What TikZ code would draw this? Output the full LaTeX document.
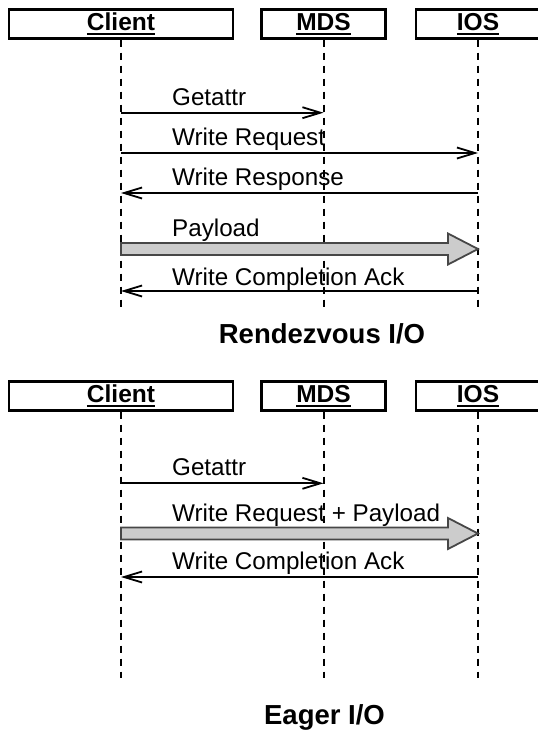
\documentclass[tikz,border=0pt]{standalone}
\usepackage{fontspec}
\setmainfont{Liberation Sans}
\usetikzlibrary{arrows.meta,calc}
\newcommand\hdrul[1]{\setbox0\hbox{#1}\rlap{\smash{\raisebox{-5pt}{\rule{\wd0}{2.2pt}}}}\box0}
\newcommand\fatarrow[2]{%
  \draw[fat] ([yshift=6pt]#1) -- ([xshift=-30pt,yshift=6pt]#2) -- ([xshift=-30pt,yshift=15.5pt]#2) -- (#2)
     -- ([xshift=-30pt,yshift=-15.5pt]#2) -- ([xshift=-30pt,yshift=-6pt]#2) -- ([yshift=-6pt]#1) -- cycle;}
\begin{document}
\begin{tikzpicture}[x=1pt,y=-1pt,
  hdr/.style={draw=black, line width=2.3pt, fill=white, inner sep=0pt, minimum height=29pt,
    text height=12pt, text depth=0pt, font=\fontsize{24.5}{29}\selectfont\bfseries},
  life/.style={line width=2pt, dash pattern=on 7pt off 6pt},
  msg/.style={line width=1.8pt, -{Straight Barb[length=18pt,width=11pt,line width=1.8pt]}},
  lbl/.style={anchor=base west, inner sep=0pt, font=\fontsize{24.2}{29}\selectfont},
  ttl/.style={anchor=base, inner sep=0pt, font=\fontsize{27.5}{33}\selectfont\bfseries},
  fat/.style={draw=black!72, line width=1.8pt, fill=black!20, line join=miter}
]
\useasboundingbox (0,0) rectangle (538,732);

% ---------- Rendezvous I/O ----------
\coordinate (c1e) at (121,307);
\coordinate (m1e) at (323.5,307);
\coordinate (i1e) at (478,307);
\node[hdr, minimum width=224pt] (c1) at (121,24) {\hdrul{Client}};
\node[hdr, minimum width=124pt] (m1) at (323.5,24) {\hdrul{MDS}};
\node[hdr, minimum width=124pt] (i1) at (478,24) {\hdrul{IOS}};
\draw[life] (c1.south) -- (c1e);
\draw[life] (m1.south) -- (m1e);
\draw[life] (i1.south) -- (i1e);

\coordinate (a1s) at (121,112.7); \coordinate (a1e) at (323.5,112.7);
\coordinate (a2s) at (121,153);   \coordinate (a2e) at (478,153);
\coordinate (a3s) at (478,193);   \coordinate (a3e) at (121,193);
\coordinate (a4s) at (121,249);   \coordinate (a4e) at (478,249);
\coordinate (a5s) at (478,291);   \coordinate (a5e) at (121,291);

\draw[msg] (a1s) -- (a1e);
\draw[msg] (a2s) -- (a2e);
\draw[msg] (a3s) -- (a3e);
\fatarrow{a4s}{a4e}
\draw[msg] (a5s) -- (a5e);

\node[lbl] (l1) at (172,105) {Getattr};
\node[lbl] (l2) at (172,145.7) {Write Request};
\node[lbl] (l3) at (172,185) {Write Response};
\node[lbl] (l4) at (172,236) {Payload};
\node[lbl] (l5) at (172,285.5) {Write Completion Ack};
\node[ttl] (t1) at (322,343) {Rendezvous I/O};

% ---------- Eager I/O ----------
\coordinate (c2e) at (121,678);
\coordinate (m2e) at (323.5,678);
\coordinate (i2e) at (478,678);
\node[hdr, minimum width=224pt] (c2) at (121,396) {\hdrul{Client}};
\node[hdr, minimum width=124pt] (m2) at (323.5,396) {\hdrul{MDS}};
\node[hdr, minimum width=124pt] (i2) at (478,396) {\hdrul{IOS}};
\draw[life] (c2.south) -- (c2e);
\draw[life] (m2.south) -- (m2e);
\draw[life] (i2.south) -- (i2e);

\coordinate (b1s) at (121,483.3); \coordinate (b1e) at (323.5,483.3);
\coordinate (b2s) at (121,533.5); \coordinate (b2e) at (478,533.5);
\coordinate (b3s) at (478,577);   \coordinate (b3e) at (121,577);

\draw[msg] (b1s) -- (b1e);
\fatarrow{b2s}{b2e}
\draw[msg] (b3s) -- (b3e);

\node[lbl] (k1) at (172,475.7) {Getattr};
\node[lbl] (k2) at (172,521) {Write Request + Payload};
\node[lbl] (k3) at (172,569.3) {Write Completion Ack};
\node[ttl] (t2) at (324.5,724.3) {Eager I/O};
\end{tikzpicture}
\end{document}
